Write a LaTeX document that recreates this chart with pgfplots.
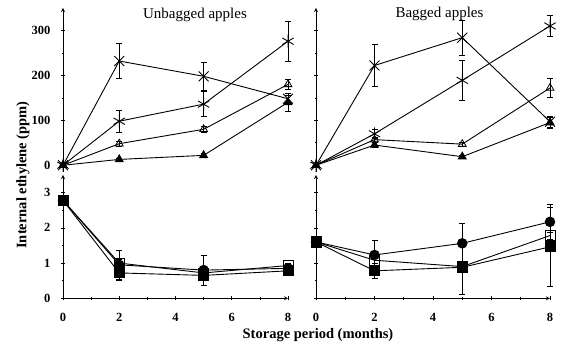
\documentclass[border=0pt]{standalone}
\usepackage{fontspec}
\setmainfont{Liberation Serif}
\usepackage{pgfplots}
\pgfplotsset{compat=1.18}

\pgfplotsset{
  panel/.style={
    scale only axis, clip=false,
    width=225pt, xmin=0, xmax=8,
    axis line style={-, line width=0.8pt},
    tick align=inside, tick style={black, line width=0.6pt},
    major tick length=4pt, minor tick length=2.5pt,
    /pgf/number format/assume math mode=true,
    ticklabel style={font=\fontsize{12.5}{14}\selectfont\bfseries},
    yticklabel style={xshift=-7pt},
    xticklabel style={yshift=-9pt},
    cycle list={{black, line width=0.9pt}},
    error bars/error bar style={black, line width=0.6pt},
    error bars/error mark=|,
    error bars/error mark options={black, mark size=3pt, line width=0.7pt},
  },
  toppanel/.style={panel, height=164pt, ymin=-15, ymax=350,
    axis x line=none, axis y line=left, xtick=\empty,
    ytick={0,100,200,300}, minor y tick num=1},
  botpanel/.style={panel, height=123.3pt, ymin=0, ymax=3.5,
    axis x line=bottom, axis y line=left,
    xtick={0,2,4,6,8}, minor x tick num=1,
    ytick={0,1,2,3}, minor y tick num=1},
  mX/.style={black, line width=0.9pt, mark=x, mark size=7pt, mark options={solid, black, line width=0.9pt}},
  mA/.style={black, line width=0.9pt, mark=asterisk, mark size=6.5pt, mark options={solid, black, line width=0.9pt}},
  mOT/.style={black, line width=0.9pt, mark=triangle, mark size=4.5pt, mark options={solid, draw=black, fill=white, line width=0.8pt}},
  mFT/.style={black, line width=0.9pt, mark=triangle*, mark size=4.5pt, mark options={solid, draw=black, fill=black}},
  mFC/.style={black, line width=0.9pt, mark=*, mark size=4.8pt, mark options={solid, draw=black, fill=black}},
  mOS/.style={black, line width=0.9pt, mark=square, mark size=5pt, mark options={solid, draw=black, fill=white, line width=0.8pt}},
  mFS/.style={black, line width=0.9pt, mark=square*, mark size=5pt, mark options={solid, draw=black, fill=black}},
  eb/.style={error bars/.cd, y dir=both, y explicit},
}

\begin{document}
\begin{tikzpicture}[x=1pt,y=1pt]
\useasboundingbox (0,0) rectangle (563,344);

% Top left: unbagged
\begin{axis}[toppanel, at={(63pt,172pt)}, anchor=south west]
\addplot[mX, eb] coordinates {(0,0) +- (0,0) (2,232) +- (0,39) (5,198) +- (0,32) (8,148) +- (0,8)};
\addplot[mA, eb] coordinates {(0,0) +- (0,0) (2,98) +- (0,24) (5,136) +- (0,28) (8,276) +- (0,45)};
\addplot[mOT, eb] coordinates {(0,0) +- (0,0) (2,48) +- (0,5) (5,80) +- (0,6) (8,180) +- (0,12)};
\addplot[mFT, eb] coordinates {(0,0) +- (0,0) (2,13) +- (0,3) (5,22) +- (0,4) (8,140) +- (0,20)};
\end{axis}

% Top right: bagged
\begin{axis}[toppanel, width=234pt, yticklabels={}, at={(316pt,172pt)}, anchor=south west]
\addplot[mX, eb] coordinates {(0,0) +- (0,0) (2,222) +- (0,46) (5,284) +- (0,39) (8,97) +- (0,12)};
\addplot[mA, eb] coordinates {(0,0) +- (0,0) (2,70) +- (0,10) (5,189) +- (0,45) (8,310) +- (0,24)};
\addplot[mOT, eb] coordinates {(0,0) +- (0,0) (2,57) +- (0,5) (5,47) +- (0,5) (8,172) +- (0,21)};
\addplot[mFT, eb] coordinates {(0,0) +- (0,0) (2,45) +- (0,5) (5,19) +- (0,4) (8,95) +- (0,12)};
\end{axis}

% Bottom left
\begin{axis}[botpanel, at={(63pt,45.7pt)}, anchor=south west]
\addplot[mOS, eb] coordinates {(0,2.78) +- (0,0) (2,1.0) +- (0,0.1) (5,0.72) +- (0,0.1) (8,0.93) +- (0,0.05)};
\addplot[mFC, eb] coordinates {(0,2.78) +- (0,0) (2,0.95) +- (0,0.4) (5,0.8) +- (0,0.43) (8,0.85) +- (0,0.05)};
\addplot[mFS, eb] coordinates {(0,2.78) +- (0,0) (2,0.72) +- (0,0.22) (5,0.65) +- (0,0.1) (8,0.78) +- (0,0.05)};
\end{axis}

% Bottom right
\begin{axis}[botpanel, width=234pt, yticklabels={}, at={(316pt,45.7pt)}, anchor=south west]
\addplot[mOS, eb] coordinates {(0,1.6) +- (0,0) (2,1.08) +- (0,0.1) (5,0.9) +- (0,0.1) (8,1.78) +- (0,0.1)};
\addplot[mFC, eb] coordinates {(0,1.6) +- (0,0) (2,1.23) +- (0,0.42) (5,1.56) +- (0,0.58) (8,2.17) +- (0,0.49)};
\addplot[mFS, eb] coordinates {(0,1.6) +- (0,0) (2,0.78) +- (0,0.2) (5,0.88) +- (0,0.78) (8,1.46) +- (0,1.13)};
\end{axis}

\node[font=\fontsize{15}{17}\selectfont] at (195,329) {Unbagged apples};
\node[font=\fontsize{15}{17}\selectfont] at (439.5,330) {Bagged apples};
\node[font=\fontsize{14.5}{17}\selectfont\bfseries, rotate=90] at (23,169) {Internal ethylene (ppm)};
\node[font=\fontsize{14.5}{17}\selectfont\bfseries] at (318,9) {Storage period (months)};
\end{tikzpicture}
\end{document}
